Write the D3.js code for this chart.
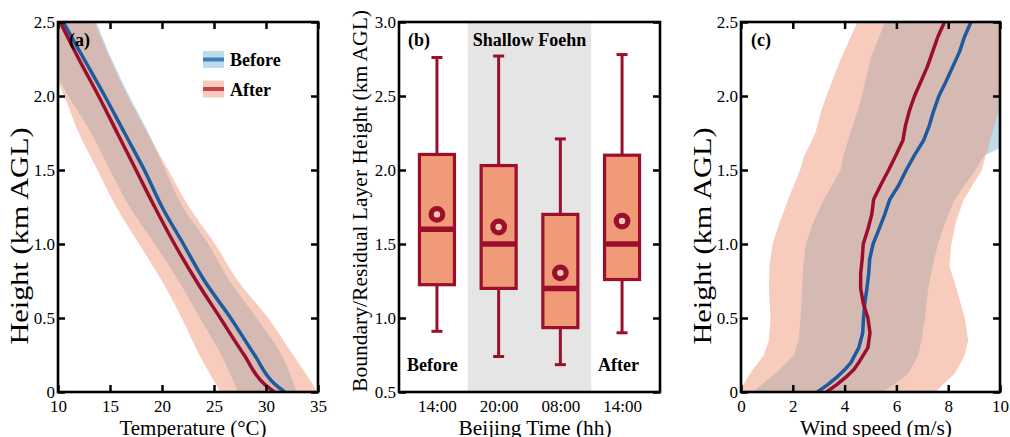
<!DOCTYPE html>
<html>
<head>
<meta charset="utf-8">
<script src="https://cdn.jsdelivr.net/npm/d3@7"></script>
<style>
  body { margin: 0; background: #fff; }
  svg text { font-family: "Liberation Serif", "Times New Roman", serif; fill: #000; }
</style>
</head>
<body>
<div id="chart"></div>
<script>
// ---- panel (a): temperature profiles, height in km AGL
var heightA = [0, 0.05, 0.25, 0.5, 0.75, 1.0, 1.25, 1.5, 1.75, 2.0, 2.25, 2.5];
var beforeTemp   = [31.8, 30.9, 28.9, 26.6, 24.1, 22.05, 20.0, 18.3, 16.4, 14.5, 12.5, 10.5];
var afterTemp    = [30.8, 29.9, 27.9, 25.6, 23.3, 21.2, 19.3, 17.5, 15.7, 13.9, 12.0, 10.2];
var beforeTempLo = [27.3, 27.0, 25.7, 23.65, 21.6, 19.3, 16.9, 15.0, 13.2, 11.0, 9.2, 7.8];
var beforeTempHi = [32.95, 32.7, 31.5, 29.1, 26.5, 24.45, 22.0, 20.3, 18.7, 16.85, 15.15, 13.7];
var afterTempLo  = [25.6, 25.2, 23.6, 21.9, 20.0, 17.8, 15.6, 13.8, 12.0, 10.6, 9.0, 7.5];
var afterTempHi  = [34.9, 34.5, 32.6, 30.2, 27.3, 25.1, 22.6, 20.6, 18.6, 16.7, 15.0, 13.5];

// ---- panel (b): boundary / residual layer height boxes
var timeLabels  = ["14:00", "20:00", "08:00", "14:00"];
var whiskerHigh = [2.76, 2.77, 2.21, 2.78];
var boxQ3       = [2.105, 2.03, 1.70, 2.10];
var boxMedian   = [1.60, 1.50, 1.20, 1.50];
var boxQ1       = [1.225, 1.20, 0.935, 1.26];
var whiskerLow  = [0.91, 0.74, 0.685, 0.90];
var boxMean     = [1.70, 1.615, 1.305, 1.655];

// ---- panel (c): wind speed profiles
var heightC = [0, 0.05, 0.1, 0.15, 0.2, 0.3, 0.4, 0.5, 0.6, 0.7, 0.8, 0.9, 1.0, 1.1, 1.2, 1.3, 1.4, 1.5, 1.6, 1.7, 1.8, 1.9, 2.0, 2.1, 2.2, 2.3, 2.4, 2.5];
var beforeWind = [2.95, 3.35, 3.7, 4.0, 4.25, 4.55, 4.7, 4.73, 4.78, 4.86, 4.93, 4.97, 5.1, 5.33, 5.55, 5.74, 6.1, 6.38, 6.7, 7.05, 7.27, 7.44, 7.64, 7.92, 8.18, 8.44, 8.63, 8.88];
var afterWind  = [3.3, 3.7, 4.05, 4.35, 4.55, 4.9, 4.98, 4.9, 4.72, 4.62, 4.62, 4.68, 4.72, 4.9, 5.05, 5.12, 5.4, 5.7, 5.98, 6.25, 6.35, 6.5, 6.7, 6.95, 7.2, 7.4, 7.6, 7.86];
var heightBandC  = [0, 0.05, 0.125, 0.25, 0.35, 0.5, 0.7, 0.85, 1.0, 1.15, 1.3, 1.5, 1.6, 1.65, 1.75, 1.9, 2.0, 2.25, 2.5];
var beforeWindLo = [0.44, 0.8, 1.33, 2.04, 2.23, 2.3, 2.36, 2.4, 2.5, 2.8, 3.2, 3.85, 3.95, 4.05, 4.22, 4.5, 4.67, 5.0, 5.56];
var beforeWindHi = [5.44, 5.9, 6.46, 6.85, 6.97, 7.1, 7.23, 7.4, 7.6, 7.9, 8.25, 9.05, 9.4, 10.05, 10.3, 10.4, 10.6, 11.0, 11.5];
var afterWindLo  = [0.0, 0.1, 0.35, 0.88, 1.08, 1.14, 1.08, 1.1, 1.22, 1.5, 1.82, 2.28, 2.45, 2.6, 2.87, 3.1, 3.3, 3.85, 4.5];
var afterWindHi  = [7.5, 7.8, 8.26, 8.64, 8.77, 8.64, 8.32, 8.05, 8.12, 8.3, 8.6, 9.3, 9.45, 9.55, 9.7, 9.95, 10.3, 10.8, 11.3];

var heightTicks = [0, 0.5, 1.0, 1.5, 2.0, 2.5];

var RED = "#9c0f2b", BLUE = "#1e5aa0";
var BAND_BEFORE = "rgb(188,220,236)", BAND_AFTER = "rgb(238,148,116)";

var svg = d3.select("#chart").append("svg")
  .attr("width", 1010).attr("height", 437);

var plotTop = 22, plotBottom = 392;
var hFmt = function(d) { return d === 0 ? "0" : d3.format(".1f")(d); };

// frame + inward ticks on all four sides
function drawFrame(x, y, xTicks, yTicks, xFmt, yFmt, withXTicks) {
  var x0 = x.range()[0], x1 = x.range()[1];
  var g = svg.append("g");
  g.append("g").attr("transform", "translate(0," + plotBottom + ")")
    .call(d3.axisBottom(x).tickValues(xTicks).tickSize(withXTicks ? -7 : 0).tickPadding(8).tickFormat(xFmt));
  if (withXTicks) {
    g.append("g").attr("transform", "translate(0," + plotTop + ")")
      .call(d3.axisTop(x).tickValues(xTicks).tickSize(-7).tickFormat(""));
  }
  g.append("g").attr("transform", "translate(" + x0 + ",0)")
    .call(d3.axisLeft(y).tickValues(yTicks).tickSize(-7).tickPadding(3).tickFormat(yFmt));
  g.append("g").attr("transform", "translate(" + x1 + ",0)")
    .call(d3.axisRight(y).tickValues(yTicks).tickSize(-7).tickFormat(""));
  g.selectAll(".domain").remove();
  g.selectAll(".tick line").attr("stroke", "#000").attr("stroke-width", 2.5);
  g.selectAll(".tick text").style("font-size", "17px")
    .style("font-family", '"Liberation Serif", "Times New Roman", serif');
  g.append("rect").attr("x", x0).attr("y", plotTop)
    .attr("width", x1 - x0).attr("height", plotBottom - plotTop)
    .attr("fill", "none").attr("stroke", "#000").attr("stroke-width", 2.6);
}

function yTitle(txt, x, cy, len, size) {
  svg.append("text").attr("transform", "translate(" + x + "," + cy + ") rotate(-90)")
    .attr("text-anchor", "middle").style("font-size", (size || 21) + "px")
    .attr("textLength", len).attr("lengthAdjust", "spacingAndGlyphs").text(txt);
}
function xTitle(txt, cx, len) {
  svg.append("text").attr("x", cx).attr("y", 435).attr("text-anchor", "middle")
    .style("font-size", "21px").attr("textLength", len).attr("lengthAdjust", "spacingAndGlyphs").text(txt);
}
function boldText(txt, x, y, anchor, size) {
  svg.append("text").attr("x", x).attr("y", y).attr("text-anchor", anchor || "start")
    .style("font-size", (size || 18) + "px").style("font-weight", "bold").text(txt);
}

var defs = svg.append("defs");

// ================= panel (a) =================
var xA = d3.scaleLinear().domain([10, 35]).range([58, 318]);
var yA = d3.scaleLinear().domain([0, 2.5]).range([plotBottom, plotTop]);
defs.append("clipPath").attr("id", "clipA").append("rect")
  .attr("x", 58).attr("y", plotTop).attr("width", 260).attr("height", plotBottom - plotTop);
var gA = svg.append("g").attr("clip-path", "url(#clipA)");

function bandA(lo, hi) {
  return d3.area().curve(d3.curveMonotoneY)
    .y(function(d, i) { return yA(heightA[i]); })
    .x0(function(d, i) { return xA(lo[i]); })
    .x1(function(d, i) { return xA(hi[i]); })(heightA);
}
function lineA(vals) {
  return d3.line().curve(d3.curveMonotoneY)
    .y(function(d, i) { return yA(heightA[i]); })
    .x(function(d, i) { return xA(vals[i]); })(heightA);
}
gA.append("path").attr("d", bandA(beforeTempLo, beforeTempHi)).attr("fill", BAND_BEFORE);
gA.append("path").attr("d", bandA(afterTempLo, afterTempHi)).attr("fill", BAND_AFTER).attr("fill-opacity", 0.48);
gA.append("path").attr("d", lineA(beforeTemp)).attr("fill", "none").attr("stroke", BLUE).attr("stroke-width", 3.5);
gA.append("path").attr("d", lineA(afterTemp)).attr("fill", "none").attr("stroke", RED).attr("stroke-width", 3.5);

drawFrame(xA, yA, [10, 15, 20, 25, 30, 35], heightTicks, d3.format("d"), hFmt, true);

// legend
var legend = [{ name: "Before", band: BAND_BEFORE, op: 1, line: "#3f7fbc", y: 51 },
              { name: "After", band: BAND_AFTER, op: 0.48, line: "#c8424a", y: 80.5 }];
legend.forEach(function(l) {
  svg.append("rect").attr("x", 203).attr("y", l.y).attr("width", 21).attr("height", 17)
    .attr("fill", l.band).attr("fill-opacity", l.op);
  svg.append("line").attr("x1", 203).attr("x2", 224).attr("y1", l.y + 8.5).attr("y2", l.y + 8.5)
    .attr("stroke", l.line).attr("stroke-width", 4);
  boldText(l.name, 230, l.y + 15);
});
boldText("(a)", 69, 46);
yTitle("Height (km AGL)", 28, 236, 217, 25);
xTitle("Temperature (\u00b0C)", 193, 147);

// ================= panel (b) =================
var idx = d3.range(timeLabels.length);
var xB = d3.scalePoint().domain(idx).range([399, 660]).padding(0.615);
var yB = d3.scaleLinear().domain([0.5, 3.0]).range([plotBottom, plotTop]);
var stepB = xB.step();

svg.append("rect").attr("x", xB(1) - stepB / 2).attr("y", plotTop)
  .attr("width", xB(2) - xB(1) + stepB).attr("height", plotBottom - plotTop).attr("fill", "#e5e5e5");

var boxW = 35, capW = 11;
var gB = svg.append("g");
idx.forEach(function(i) {
  var cx = xB(i);
  gB.append("line").attr("x1", cx).attr("x2", cx).attr("y1", yB(whiskerHigh[i])).attr("y2", yB(boxQ3[i]))
    .attr("stroke", RED).attr("stroke-width", 3);
  gB.append("line").attr("x1", cx).attr("x2", cx).attr("y1", yB(boxQ1[i])).attr("y2", yB(whiskerLow[i]))
    .attr("stroke", RED).attr("stroke-width", 3);
  [whiskerHigh[i], whiskerLow[i]].forEach(function(v) {
    gB.append("line").attr("x1", cx - capW / 2).attr("x2", cx + capW / 2).attr("y1", yB(v)).attr("y2", yB(v))
      .attr("stroke", RED).attr("stroke-width", 3);
  });
  gB.append("rect").attr("x", cx - boxW / 2).attr("y", yB(boxQ3[i]))
    .attr("width", boxW).attr("height", yB(boxQ1[i]) - yB(boxQ3[i]))
    .attr("fill", "#f09a78").attr("stroke", RED).attr("stroke-width", 3.2);
  gB.append("line").attr("x1", cx - boxW / 2).attr("x2", cx + boxW / 2)
    .attr("y1", yB(boxMedian[i])).attr("y2", yB(boxMedian[i]))
    .attr("stroke", RED).attr("stroke-width", 5.5);
  gB.append("circle").attr("cx", cx).attr("cy", yB(boxMean[i])).attr("r", 5.8)
    .attr("fill", "#f5c9b8").attr("stroke", RED).attr("stroke-width", 5.2);
});

drawFrame(xB, yB, idx, [0.5, 1.0, 1.5, 2.0, 2.5, 3.0],
  function(d) { return timeLabels[d]; }, d3.format(".1f"), false);

boldText("(b)", 408, 46);
boldText("Shallow Foehn", (xB(1) + xB(2)) / 2, 46, "middle");
boldText("Before", 407, 371);
boldText("After", 598, 371);
yTitle("Boundary/Residual Layer Height (km AGL)", 367, 201, 382);
xTitle("Beijing Time (hh)", 535, 153);

// ================= panel (c) =================
var xC = d3.scaleLinear().domain([0, 10]).range([741, 1000]);
var yC = d3.scaleLinear().domain([0, 2.5]).range([plotBottom, plotTop]);
defs.append("clipPath").attr("id", "clipC").append("rect")
  .attr("x", 741).attr("y", plotTop).attr("width", 259).attr("height", plotBottom - plotTop);
var gC = svg.append("g").attr("clip-path", "url(#clipC)");

function bandC(lo, hi) {
  return d3.area()
    .y(function(d, i) { return yC(heightBandC[i]); })
    .x0(function(d, i) { return xC(lo[i]); })
    .x1(function(d, i) { return xC(hi[i]); })(heightBandC);
}
function lineC(vals) {
  return d3.line()
    .y(function(d, i) { return yC(heightC[i]); })
    .x(function(d, i) { return xC(vals[i]); })(heightC);
}
gC.append("path").attr("d", bandC(beforeWindLo, beforeWindHi)).attr("fill", BAND_BEFORE);
gC.append("path").attr("d", bandC(afterWindLo, afterWindHi)).attr("fill", BAND_AFTER).attr("fill-opacity", 0.48);
gC.append("path").attr("d", lineC(beforeWind)).attr("fill", "none").attr("stroke", BLUE).attr("stroke-width", 3.5).attr("stroke-linejoin", "round");
gC.append("path").attr("d", lineC(afterWind)).attr("fill", "none").attr("stroke", RED).attr("stroke-width", 3.5).attr("stroke-linejoin", "round");

drawFrame(xC, yC, [0, 2, 4, 6, 8, 10], heightTicks, d3.format("d"), hFmt, true);

boldText("(c)", 751, 46);
yTitle("Height (km AGL)", 711, 236, 217, 25);
xTitle("Wind speed (m/s)", 876, 152);
</script>
</body>
</html>
